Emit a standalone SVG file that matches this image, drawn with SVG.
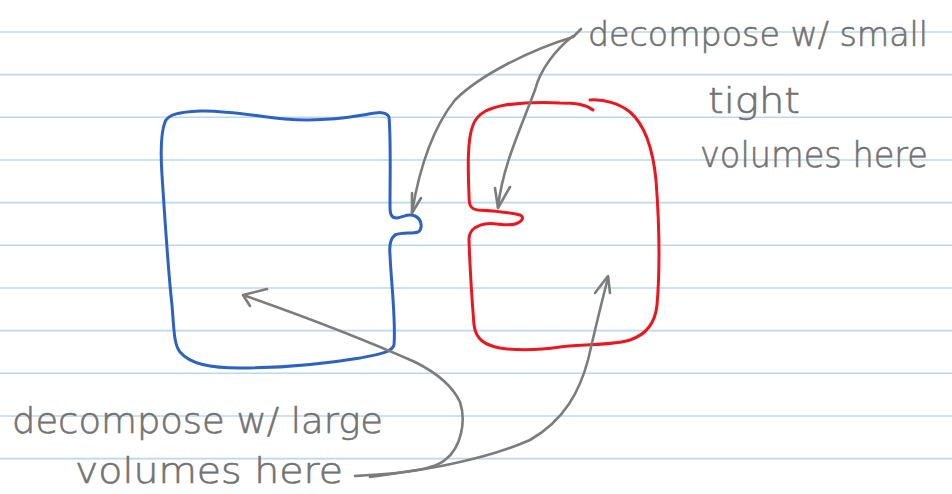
<svg xmlns="http://www.w3.org/2000/svg" width="952" height="494" viewBox="0 0 952 494">
  <style>
    .rule { stroke: #bcd7e8; stroke-width: 1.6; }
    .ink { fill: none; stroke-linecap: round; stroke-linejoin: round; }
    .blue { stroke: #2d62c2; stroke-width: 3; }
    .red { stroke: #ea1620; stroke-width: 3; }
    .arrow { fill: none; stroke: #7c7c7c; stroke-width: 2.6; stroke-linecap: round; stroke-linejoin: round; }
    .note { font-family: "DejaVu Sans", "Liberation Sans", sans-serif; font-weight: 200; font-size: 36px; fill: #727272; stroke: #727272; stroke-width: 0.6; }
    .note.tight-fit { font-size: 33px; }
  </style>

  <!-- ruled notebook paper -->
  <rect width="952" height="494" fill="#ffffff"/>
  <g id="ruling">
    <line class="rule" x1="0" y1="32" x2="952" y2="32"/>
    <line class="rule" x1="0" y1="74.6" x2="952" y2="74.6"/>
    <line class="rule" x1="0" y1="117.3" x2="952" y2="117.3"/>
    <line class="rule" x1="0" y1="160" x2="952" y2="160"/>
    <line class="rule" x1="0" y1="202.6" x2="952" y2="202.6"/>
    <line class="rule" x1="0" y1="245.3" x2="952" y2="245.3"/>
    <line class="rule" x1="0" y1="288" x2="952" y2="288"/>
    <line class="rule" x1="0" y1="330.6" x2="952" y2="330.6"/>
    <line class="rule" x1="0" y1="373.3" x2="952" y2="373.3"/>
    <line class="rule" x1="0" y1="416" x2="952" y2="416"/>
    <line class="rule" x1="0" y1="458.6" x2="952" y2="458.6"/>
  </g>

  <!-- blue region with a small tab on the right -->
  <g id="blue-region">
    <path class="ink blue" d="M 389 117
      C 386 110, 375 113, 363 115
      C 340 119, 310 121, 285 119
      C 255 116, 225 110, 200 111
      C 180 112, 168 114, 165 122
      C 160 135, 161 160, 162 175
      C 165 220, 168 270, 172 305
      C 174 330, 174 345, 180 352
      C 190 364, 210 368, 240 368
      C 290 368, 330 363, 360 358
      C 380 354, 392 352, 394 345
      C 396 320, 391 280, 390 255
      C 389 245, 390 239, 395 235
      C 402 232, 412 234, 418 232
      C 423 229, 422 219, 415 216
      C 408 213, 404 217, 397 218
      C 390 218, 390 212, 390 205
      C 390 180, 391 140, 389 117 Z"/>
  </g>

  <!-- red region with a thin slot on the left -->
  <g id="red-region">
    <path class="ink red" d="M 590 100
      C 605 99, 620 104, 630 112
      C 645 125, 653 150, 656 180
      C 659 220, 660 270, 657 305
      C 655 325, 645 335, 630 340
      C 615 345, 590 344, 560 347
      C 540 350, 520 351, 500 348
      C 485 345, 476 340, 474 325
      C 472 300, 470 270, 469 240
      C 469 230, 475 226, 485 224
      C 495 222, 505 227, 515 224
      C 522 222, 525 217, 520 215
      C 512 213, 495 211, 478 210
      C 470 209, 469 205, 469 195
      C 468 170, 467 140, 473 125
      C 478 112, 490 108, 505 105
      C 520 103, 540 102, 560 103
      C 575 103, 585 104, 593 110"/>
  </g>

  <!-- annotations -->
  <g id="label-small">
    <text class="note tight-fit" x="588" y="46" textLength="340" lengthAdjust="spacingAndGlyphs">decompose w/ small</text>
    <text class="note" x="708" y="113" textLength="92" lengthAdjust="spacingAndGlyphs">tight</text>
    <text class="note" x="700" y="167" textLength="228" lengthAdjust="spacingAndGlyphs">volumes here</text>
  </g>
  <g id="label-large">
    <text class="note" x="12" y="433" textLength="371" lengthAdjust="spacingAndGlyphs">decompose w/ large</text>
    <text class="note" x="75" y="483" textLength="268" lengthAdjust="spacingAndGlyphs">volumes here</text>
  </g>

  <g id="connectors">
    <!-- small-volume note to the blue tab -->
    <path class="arrow" d="M 581 29 L 573 37 C 530 50, 480 75, 455 100 C 435 125, 420 165, 412 212"/>
    <path class="arrow" d="M 412 193 L 412 213 L 421 198"/>
    <!-- small-volume note to the red slot -->
    <path class="arrow" d="M 573 36 C 555 50, 540 70, 535 90 C 520 130, 503 165, 498 207"/>
    <path class="arrow" d="M 495 188 L 498 208 L 510 187"/>
    <!-- large-volume note to the blue interior -->
    <path class="arrow" d="M 355 476 C 390 474, 430 472, 445 460 C 462 447, 466 420, 460 402 C 452 385, 435 372, 415 362 C 370 342, 300 315, 246 296"/>
    <path class="arrow" d="M 267 289 L 243 295 L 250 306"/>
    <!-- large-volume note to the red interior -->
    <path class="arrow" d="M 370 477 C 420 470, 480 462, 530 440 C 565 420, 580 390, 588 360 C 595 330, 602 300, 608 278"/>
    <path class="arrow" d="M 595 293 L 608 276 L 610 293"/>
  </g>
</svg>
